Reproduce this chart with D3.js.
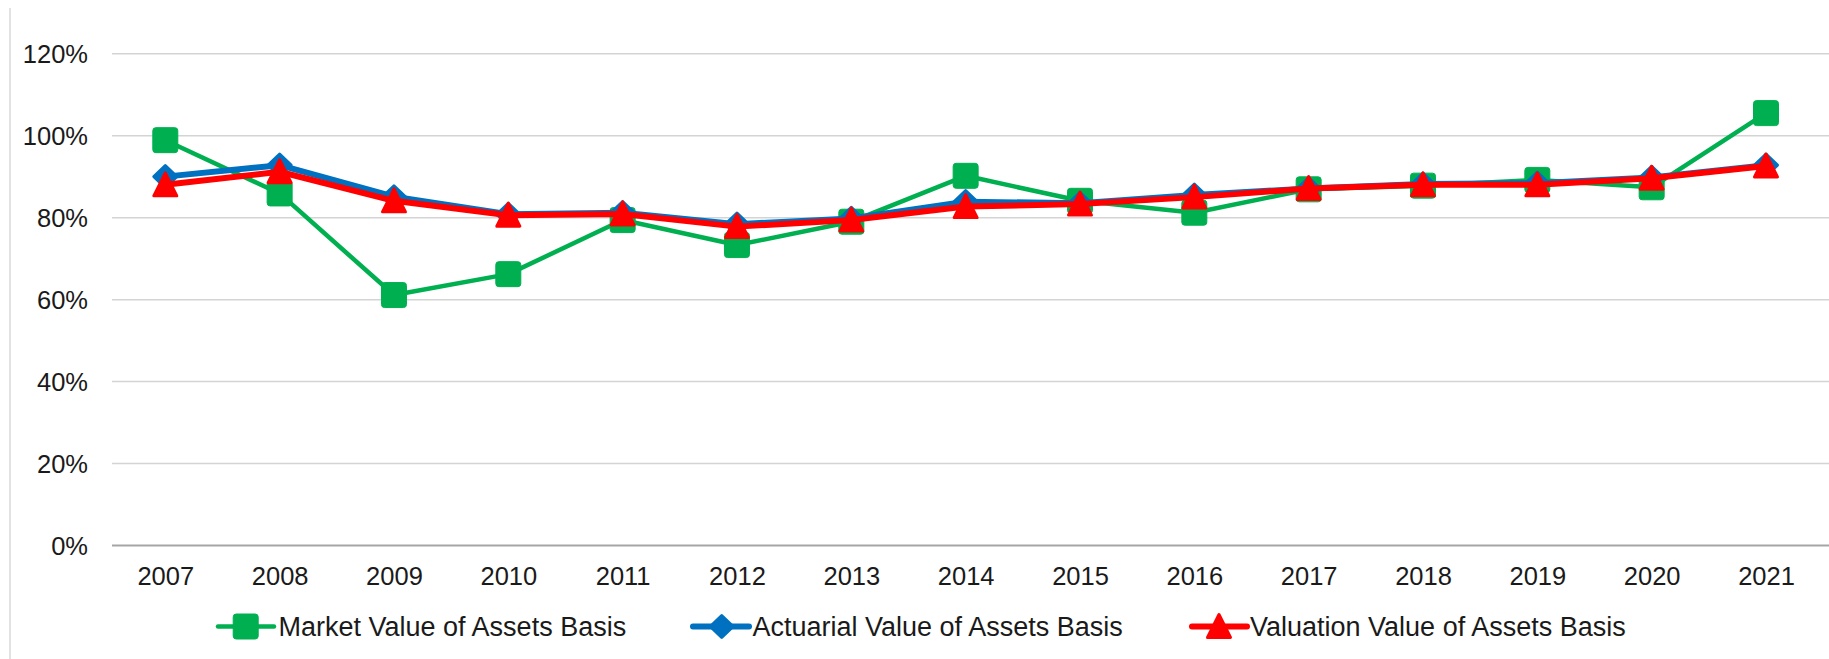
<!DOCTYPE html>
<html>
<head>
<meta charset="utf-8">
<script src="https://cdn.jsdelivr.net/npm/d3@7"></script>
<style>
  html, body { margin: 0; padding: 0; background: #ffffff; }
  svg { display: block; }
  text { font-family: "Liberation Sans", Arial, sans-serif; fill: #1a1a1a; }
</style>
</head>
<body>
<svg id="chart" width="1829" height="659"></svg>
<script>
const years = ["2007","2008","2009","2010","2011","2012","2013","2014","2015","2016","2017","2018","2019","2020","2021"];
const marketValues    = [98.8, 85.8, 61.0, 66.1, 79.3, 73.2, 78.9, 90.1, 84.0, 81.1, 86.8, 87.7, 89.1, 87.3, 105.4];
const actuarialValues = [89.9, 92.7, 85.0, 80.7, 81.1, 78.3, 79.7, 83.8, 83.4, 85.4, 87.0, 88.1, 88.3, 89.7, 92.7];
const valuationValues = [87.9, 91.1, 84.0, 80.5, 80.8, 77.7, 79.3, 82.6, 83.2, 84.9, 87.0, 87.9, 87.9, 89.5, 92.5];
const yTicks = [0, 20, 40, 60, 80, 100, 120];
const seriesNames = ["Market Value of Assets Basis", "Actuarial Value of Assets Basis", "Valuation Value of Assets Basis"];

const series = [
  { name: seriesNames[0], values: marketValues,    color: "#00B050", width: 4.5, marker: "square" },
  { name: seriesNames[1], values: actuarialValues, color: "#0070C0", width: 6,   marker: "diamond" },
  { name: seriesNames[2], values: valuationValues, color: "#FF0000", width: 6,   marker: "triangle" }
];

const svg = d3.select("#chart");
const plotLeft = 112, plotRight = 1829, plotTop = 53.3, plotBottom = 545;

const x = d3.scalePoint().domain(years).range([165.3, 1766]);
const y = d3.scaleLinear().domain([0, 120]).range([plotBottom, plotTop]);

// left border line
svg.append("line").attr("x1", 10).attr("x2", 10).attr("y1", 8).attr("y2", 659)
  .attr("stroke", "#d9d9d9").attr("stroke-width", 1.5);

// gridlines
const yAxis = d3.axisLeft(y).tickValues(yTicks).tickSize(-(plotRight - plotLeft)).tickFormat(d => d + "%");
const gy = svg.append("g").attr("transform", `translate(${plotLeft},0)`).call(yAxis);
gy.select(".domain").remove();
gy.selectAll(".tick line").attr("stroke", d => d === 0 ? "#a6a6a6" : "#d4d4d4")
  .attr("stroke-width", d => d === 0 ? 2 : 1.5);
gy.selectAll(".tick text").attr("x", -24).attr("dy", "0.36em")
  .style("font-size", "25.5px").attr("fill", "#1a1a1a");

// x axis labels
const xAxis = d3.axisBottom(x).tickSize(0).tickPadding(0);
const gx = svg.append("g").attr("transform", `translate(0,${plotBottom})`).call(xAxis);
gx.select(".domain").remove();
gx.selectAll(".tick text").attr("y", 40).attr("dy", 0)
  .style("font-size", "25.5px").attr("fill", "#1a1a1a");

function markerPath(type) {
  if (type === "square") {
    const s = 12.5, r = 3;
    return `M${-s + r},${-s} H${s - r} Q${s},${-s} ${s},${-s + r} V${s - r} Q${s},${s} ${s - r},${s} H${-s + r} Q${-s},${s} ${-s},${s - r} V${-s + r} Q${-s},${-s} ${-s + r},${-s} Z`;
  }
  if (type === "diamond") {
    return "M0,-11 L11.5,0 L0,11 L-11.5,0 Z";
  }
  return "M0,-12 L11.5,11 L-11.5,11 Z";
}

const line = d3.line().x((d, i) => x(years[i])).y(d => y(d));

series.forEach(s => {
  svg.append("path").datum(s.values).attr("d", line)
    .attr("fill", "none").attr("stroke", s.color).attr("stroke-width", s.width)
    .attr("stroke-linejoin", "round").attr("stroke-linecap", "round");
  svg.append("g").selectAll("path").data(s.values).join("path")
    .attr("transform", (d, i) => `translate(${x(years[i])},${y(d)})`)
    .attr("d", markerPath(s.marker))
    .attr("fill", s.color)
    .attr("stroke", s.color)
    .attr("stroke-width", s.marker === "square" ? 1 : 3)
    .attr("stroke-linejoin", "round");
});

// legend
const legendY = 626.5;
const legendItems = [
  { x1: 218, x2: 274, mx: 245.7, tx: 278.5 },
  { x1: 693, x2: 749, mx: 721.7, tx: 752.5 },
  { x1: 1192, x2: 1247, mx: 1219, tx: 1250 }
];
series.forEach((s, i) => {
  const it = legendItems[i];
  const g = svg.append("g");
  g.append("line").attr("x1", it.x1).attr("x2", it.x2).attr("y1", legendY).attr("y2", legendY)
    .attr("stroke", s.color).attr("stroke-width", s.width).attr("stroke-linecap", "round");
  g.append("path").attr("transform", `translate(${it.mx},${legendY})`)
    .attr("d", markerPath(s.marker)).attr("fill", s.color).attr("stroke", s.color)
    .attr("stroke-width", s.marker === "square" ? 1 : 3).attr("stroke-linejoin", "round");
  g.append("text").attr("x", it.tx).attr("y", legendY).attr("dy", "0.36em")
    .style("font-size", "27px").text(s.name);
});
</script>
</body>
</html>
